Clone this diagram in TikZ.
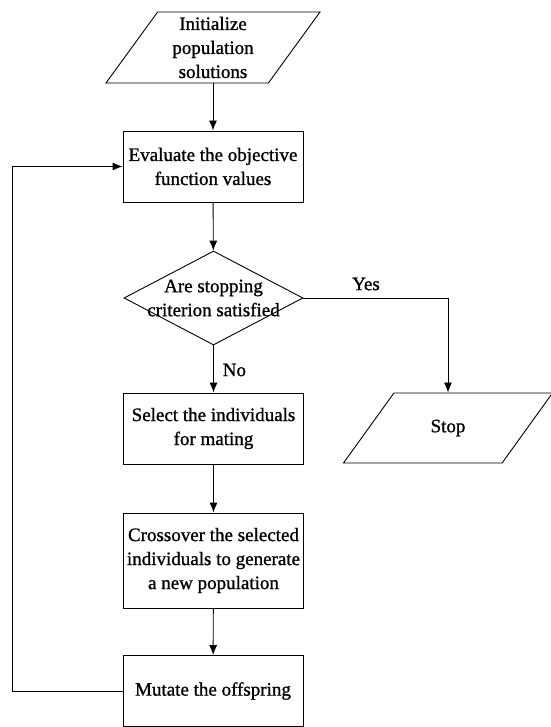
\documentclass[tikz,border=0pt]{standalone}
\usepackage{fontspec}
\setmainfont[FakeBold=1]{Liberation Serif}
\usetikzlibrary{shapes.geometric,arrows.meta}
\tikzset{
  procbox/.style={draw,rectangle,inner sep=1pt,align=center,
    minimum width=180pt,minimum height=71pt},
  iobox/.style={draw,trapezium,trapezium stretches=true,
    trapezium left angle=65,trapezium right angle=115,inner sep=1pt,
    minimum height=71pt},
  decisionbox/.style={draw,diamond,inner sep=1pt,minimum width=179pt,minimum height=94pt},
  flow/.style={draw=black,-{Latex[length=10pt,width=8pt]}}
}
\begin{document}
\begin{tikzpicture}[x=1pt,y=-1pt,line width=0.9pt,
  font=\fontsize{19}{24}\selectfont]
  \useasboundingbox (0,0) rectangle (550,727);
  \node[procbox] (evaluate) at (213,166.5) {Evaluate the objective\\function values};
  \node[procbox] (select) at (213.5,428.5) {Select the individuals\\for mating};
  \node[procbox,minimum height=95pt] (crossover) at (213.5,560.5) {Crossover the selected\\individuals to generate\\a new population};
  \node[procbox] (mutate) at (213,691) {Mutate the offspring};
  \node[iobox,minimum width=214pt,
    label={[align=center]center:Initialize\\population\\solutions}] (init) at (213,47.5) {};
  \node[iobox,minimum width=209pt,minimum height=70pt,
    label={center:Stop}] (stop) at (448,428) {};
  \node[decisionbox,
    label={[align=center]center:Are stopping\\criterion satisfied}] (decision) at (213.5,298) {};
  \coordinate (loop) at (12,691);
  \node (yes) at (366,284) {Yes};
  \node[anchor=west] (no) at (219,370) {No};
  \begin{scope}[every edge/.style={flow}]
  \path (init) edge (evaluate);
  \path (evaluate) edge (decision);
  \path (decision) edge (select);
  \path (select) edge (crossover);
  \path (crossover) edge (mutate);
  \end{scope}
  \draw[flow] (decision.east) -| (stop);
  \draw[flow] (mutate.west) -- (loop) |- (evaluate.west);
\end{tikzpicture}
\end{document}
